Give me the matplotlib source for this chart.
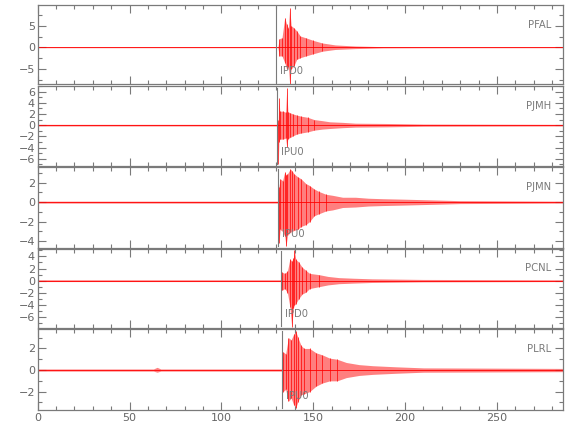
import matplotlib
matplotlib.use("Agg")
import matplotlib.pyplot as plt
import numpy as np
from matplotlib.ticker import MultipleLocator

# station names, pick times and pick labels
stations = ["PFAL", "PJMH", "PJMN", "PCNL", "PLRL"]
picks = [130.0, 130.5, 131.0, 132.5, 133.0]
pick_labels = ["IPD0", "IPU0", "IPU0", "IPD0", "IPU0"]

# amplitude envelopes (time, upper, lower)
t_pfal = [0, 130.8, 131.5, 133, 134.5, 135.5, 136.5, 137.2, 138, 139.5, 141, 143, 146, 150, 155, 162, 173, 188, 210, 286]
hi_pfal = [0.1, 0.1, 2.0, 2.2, 6.9, 5.3, 4.5, 9.2, 5.0, 4.5, 3.8, 2.6, 2.2, 1.6, 1.0, 0.55, 0.3, 0.15, 0.12, 0.1]
lo_pfal = [-0.1, -0.1, -2.0, -2.0, -3.6, -5.0, -4.5, -8.6, -5.0, -4.3, -2.8, -2.4, -2.0, -1.5, -0.9, -0.5, -0.3, -0.15, -0.12, -0.1]

t_pjmh = [0, 130.6, 131.0, 131.3, 131.8, 133.5, 135.0, 135.6, 136.2, 137.5, 139, 141, 143.5, 147, 150.5, 155, 159, 166, 173, 190, 210, 286]
hi_pjmh = [0.15, 0.15, 1.0, 4.9, 2.5, 2.5, 2.3, 6.6, 2.4, 2.2, 2.0, 1.8, 1.6, 1.4, 1.0, 0.8, 0.6, 0.5, 0.35, 0.3, 0.2, 0.15]
lo_pjmh = [-0.15, -0.15, -6.9, -3.0, -2.5, -2.5, -2.3, -3.9, -2.4, -2.2, -1.9, -1.6, -1.4, -1.2, -0.9, -0.7, -0.6, -0.45, -0.35, -0.3, -0.2, -0.15]

t_pjmn = [0, 130.8, 131.3, 132, 133.3, 134.5, 135.2, 136, 137.5, 138.5, 139.6, 141.5, 143.3, 146, 148, 150.5, 153, 157, 160.5, 166, 173, 180, 188, 200, 210, 230, 286]
hi_pjmn = [0.1, 0.1, 1.5, 2.4, 2.2, 3.1, 2.8, 2.9, 3.4, 3.2, 2.9, 2.6, 2.4, 1.9, 1.7, 1.35, 1.1, 0.8, 0.7, 0.5, 0.5, 0.4, 0.35, 0.3, 0.25, 0.15, 0.1]
lo_pjmn = [-0.1, -0.1, -4.2, -2.8, -3.0, -3.5, -4.5, -3.4, -3.1, -3.0, -2.9, -2.8, -2.5, -2.3, -2.0, -1.4, -1.2, -0.9, -0.8, -0.55, -0.5, -0.4, -0.35, -0.3, -0.25, -0.15, -0.1]

t_pcnl = [0, 132.5, 133, 134.5, 136, 137.3, 138.3, 139.2, 139.8, 140.5, 142, 144, 146, 148, 153, 158, 164, 172, 182, 210, 286]
hi_pcnl = [0.15, 0.15, 1.4, 1.2, 1.6, 3.6, 3.2, 3.8, 5.0, 3.5, 3.1, 2.2, 1.7, 1.2, 1.0, 0.7, 0.5, 0.4, 0.3, 0.2, 0.15]
lo_pcnl = [-0.15, -0.15, -1.6, -1.3, -2.0, -4.3, -7.6, -4.5, -4.0, -3.8, -3.0, -2.2, -1.9, -1.3, -1.0, -0.7, -0.5, -0.4, -0.3, -0.2, -0.15]

t_plrl = [0, 63, 65, 67, 133.0, 133.5, 135, 136.5, 138, 139.3, 140.5, 141.5, 143.3, 145, 148, 151.5, 155, 159, 163, 168, 175, 182.5, 195, 210, 286]
hi_plrl = [0.1, 0.1, 0.25, 0.1, 0.1, 1.7, 1.5, 3.0, 2.8, 3.3, 3.6, 3.1, 2.3, 2.0, 2.0, 1.6, 1.4, 1.1, 1.0, 0.7, 0.5, 0.4, 0.3, 0.2, 0.15]
lo_plrl = [-0.1, -0.1, -0.2, -0.1, -0.1, -2.0, -1.8, -2.9, -2.6, -3.2, -3.5, -3.0, -2.3, -2.2, -2.0, -1.5, -1.2, -1.0, -1.0, -0.7, -0.5, -0.4, -0.3, -0.2, -0.15]

traces = [(t_pfal, hi_pfal, lo_pfal), (t_pjmh, hi_pjmh, lo_pjmh), (t_pjmn, hi_pjmn, lo_pjmn),
          (t_pcnl, hi_pcnl, lo_pcnl), (t_plrl, hi_plrl, lo_plrl)]

ylims = [(-8.5, 9.8), (-7.3, 7.0), (-4.7, 3.6), (-7.8, 5.3), (-3.7, 3.8)]
ymajor = [5, 2, 2, 2, 2]
yminor = [2.5, 1, 1, 1, 1]

# panel extents in pixels (top, bottom)
panel_px = [(5, 84), (86, 166), (167, 248), (248.5, 328), (329, 410)]

grey = "#7a7a7a"
W, H = 580, 440
fig = plt.figure(figsize=(W / 100, H / 100), dpi=100)
plt.rcParams['font.family'] = ['DejaVu Sans']

for i in range(5):
	top, bot = panel_px[i]
	ax = fig.add_axes([37.7 / W, 1 - bot / H, (563 - 37.7) / W, (bot - top) / H])
	t, hi, lo = traces[i]
	t, hi, lo = np.array(t), np.array(hi), np.array(lo)
	ax.fill_between(t, lo, hi, color="red", alpha=0.5, lw=0)
	# strong swings as vertical strokes
	big = (hi - lo) > 1.5
	ax.vlines(t[big], lo[big], hi[big], color="red", lw=0.5)
	ax.axhline(0, color="red", lw=0.6)

	ax.axvline(picks[i], ymin=0.03, ymax=0.97, color=grey, lw=0.8)
	ax.text(picks[i] + 2.0, ylims[i][0] + 0.17 * (ylims[i][1] - ylims[i][0]), pick_labels[i],
		color=grey, fontsize=8, fontstretch="condensed", va="center", ha="left")
	ax.text(0.977, 0.75, stations[i], transform=ax.transAxes, color=grey, fontsize=8,
		fontstretch="condensed", va="center", ha="right")

	ax.set_xlim(0, 286)
	ax.set_ylim(*ylims[i])
	ax.xaxis.set_major_locator(MultipleLocator(50))
	ax.xaxis.set_minor_locator(MultipleLocator(10))
	ax.yaxis.set_major_locator(MultipleLocator(ymajor[i]))
	ax.yaxis.set_minor_locator(MultipleLocator(yminor[i]))
	ax.tick_params(which="both", direction="in", top=True, right=True, color=grey,
		labelcolor="#666666", labelsize=8, width=0.8, pad=2)
	ax.tick_params(which="major", length=6)
	ax.tick_params(which="minor", length=3)
	for s in ax.spines.values():
		s.set_color(grey)
		s.set_linewidth(0.9)
	if i < 4:
		ax.set_xticklabels([])

fig.savefig("out.png", dpi=100)
